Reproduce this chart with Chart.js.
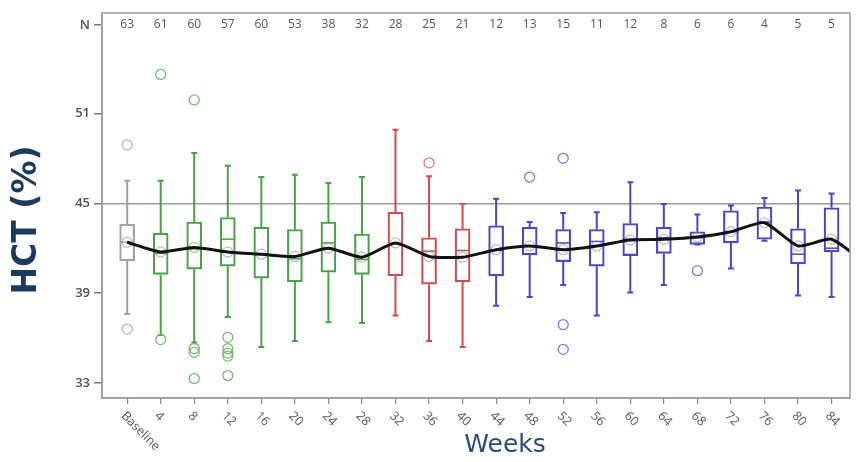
<!DOCTYPE html>
<html>
<head>
<meta charset="utf-8">
<title>HCT (%) by week</title>
<script src="https://cdn.jsdelivr.net/npm/chart.js"></script>
<style>
  html, body { margin: 0; padding: 0; background: #fff; }
  #wrap { width: 858px; height: 462px; }
</style>
</head>
<body>
<div id="wrap"><canvas id="hctChart"></canvas></div>
<script>
// categories
const weekLabels = ['Baseline', '4', '8', '12', '16', '20', '24', '28', '32', '36', '40',
                    '44', '48', '52', '56', '60', '64', '68', '72', '76', '80', '84'];
const nCounts = [63, 61, 60, 57, 60, 53, 38, 32, 28, 25, 21, 12, 13, 15, 11, 12, 8, 6, 6, 4, 5, 5];

// box plot values (HCT %)
const whiskerHigh = [46.5, 46.5, 48.35, 47.5, 46.75, 46.9, 46.35, 46.75, 49.9, 46.8, 44.95,
                     45.3, 43.75, 44.35, 44.4, 46.4, 44.95, 44.25, 44.85, 45.35, 45.85, 45.65];
const q3 = [43.6, 43.0, 43.75, 44.05, 43.4, 43.25, 43.75, 42.95, 44.4, 42.7, 43.3,
            43.5, 43.4, 43.25, 43.25, 43.65, 43.4, 43.1, 44.5, 44.75, 43.3, 44.7];
const median = [42.4, 41.65, 41.95, 42.6, 41.6, 41.3, 42.35, 41.25, 42.3, 41.8, 41.85,
                41.85, 42.15, 42.35, 42.45, 42.6, 42.7, 42.7, 43.1, 43.75, 41.6, 42.0];
const q1 = [41.15, 40.25, 40.6, 40.8, 40.0, 39.75, 40.4, 40.25, 40.15, 39.6, 39.75,
            40.15, 41.55, 41.1, 40.8, 41.5, 41.65, 42.25, 42.35, 42.6, 40.95, 41.75];
const whiskerLow = [37.6, 36.2, 35.7, 37.4, 35.4, 35.8, 37.05, 37.0, 37.5, 35.8, 35.4,
                    38.15, 38.75, 39.55, 37.5, 39.05, 39.55, 42.25, 40.65, 42.5, 38.85, 38.75];
const meanHct = [42.4, 41.75, 42.05, 41.75, 41.6, 41.45, 42.0, 41.4, 42.35, 41.45, 41.4,
                 41.9, 42.15, 41.9, 42.15, 42.55, 42.6, 42.75, 43.1, 43.7, 42.15, 42.6];
const meanBeyond84 = 41.0; // line leaves the frame on the right

// outliers: week index + value
const outlierWeek  = [0, 0, 1, 1, 2, 2, 2, 2, 3, 3, 3, 3, 3, 9, 12, 13, 13, 13, 17];
const outlierValue = [48.9, 36.6, 53.6, 35.9, 51.9, 35.3, 35.05, 33.3, 36.05, 35.3, 35.0, 34.8, 33.5,
                      47.7, 46.75, 48.0, 36.9, 35.25, 40.5];

// y axis
const yTickValues = [33, 39, 45, 51];
const refLine = 45;
const nRowValue = 56.9;

function phaseColor(i, light) {
  if (i === 0) return light ? '#b4b4b4' : '#a2a2a2';
  if (i <= 7) return light ? '#72bb72' : '#4ca04c';
  if (i <= 10) return light ? '#dc7474' : '#cd4c4c';
  return light ? '#7c7cd6' : '#4848c2';
}

const boxPlot = {
  id: 'boxPlot',
  beforeDatasetsDraw(chart) {
    const {ctx, scales: {x, y}} = chart;
    ctx.save();
    weekLabels.forEach((_, i) => {
      const px = x.getPixelForValue(i);
      const hi = y.getPixelForValue(whiskerHigh[i]);
      const lo = y.getPixelForValue(whiskerLow[i]);
      ctx.strokeStyle = phaseColor(i);
      ctx.lineWidth = 2;
      ctx.beginPath();
      ctx.moveTo(px, hi); ctx.lineTo(px, y.getPixelForValue(q3[i]));
      ctx.moveTo(px, y.getPixelForValue(q1[i])); ctx.lineTo(px, lo);
      ctx.moveTo(px - 3, hi); ctx.lineTo(px + 3, hi);
      ctx.moveTo(px - 3, lo); ctx.lineTo(px + 3, lo);
      ctx.stroke();
      ctx.lineWidth = 1.5;
      const md = y.getPixelForValue(median[i]);
      ctx.beginPath();
      ctx.moveTo(px - 7.5, md); ctx.lineTo(px + 7.5, md);
      ctx.stroke();
    });
    ctx.restore();
  },
  afterDraw(chart) {
    const {ctx, chartArea: a, scales: {x, y}} = chart;
    ctx.save();
    // frame
    ctx.strokeStyle = '#9c9c9c';
    ctx.lineWidth = 1.5;
    ctx.strokeRect(a.left, a.top, a.right - a.left, a.bottom - a.top);

    // N row
    ctx.fillStyle = '#555';
    ctx.font = '12px "Open Sans"';
    ctx.textAlign = 'center';
    ctx.textBaseline = 'middle';
    const ny = y.getPixelForValue(nRowValue);
    nCounts.forEach((n, i) => ctx.fillText(String(n), x.getPixelForValue(i), ny));

    // rotated week labels
    ctx.font = '12.5px "Open Sans"';
    ctx.textAlign = 'left';
    weekLabels.forEach((lab, i) => {
      ctx.save();
      ctx.translate(x.getPixelForValue(i) - 4, a.bottom + 16);
      ctx.rotate(Math.PI / 4);
      ctx.fillText(lab, 0, 0);
      ctx.restore();
    });

    // axis titles
    ctx.fillStyle = '#2d4b78';
    ctx.font = '25px "DejaVu Sans"';
    ctx.textAlign = 'center';
    ctx.fillText('Weeks', 505, 445);

    ctx.save();
    ctx.translate(27, 220);
    ctx.rotate(-Math.PI / 2);
    ctx.fillStyle = '#1d3a5c';
    ctx.font = 'bold 33px "DejaVu Sans"';
    ctx.fillText('HCT (%)', 0, 0);
    ctx.restore();

    ctx.restore();
  }
};

const boxData = weekLabels.map((_, i) => ({x: i, y: [q1[i], q3[i]]}));
const meanData = meanHct.map((v, i) => ({x: i, y: v}));
const meanLineData = meanData.concat([{x: weekLabels.length, y: meanBeyond84}]);
const outlierData = outlierWeek.map((w, k) => ({x: w, y: outlierValue[k]}));

new Chart(document.getElementById('hctChart'), {
  type: 'bar',
  data: {
    datasets: [
      {
        type: 'line',
        label: 'Mean',
        data: meanLineData,
        borderColor: '#111',
        borderWidth: 3,
        pointRadius: 0,
        tension: 0.2,
        order: 1
      },
      {
        type: 'scatter',
        label: 'Mean marker',
        data: meanData,
        pointRadius: 5,
        borderWidth: 1.2,
        borderColor: 'rgba(140,140,140,0.6)',
        backgroundColor: 'rgba(0,0,0,0)',
        order: 2
      },
      {
        type: 'scatter',
        label: 'Outliers',
        data: outlierData,
        pointRadius: 5,
        borderWidth: 1.3,
        borderColor: outlierWeek.map(w => phaseColor(w, true)),
        backgroundColor: 'rgba(0,0,0,0)',
        order: 2
      },
      {
        type: 'bar',
        label: 'IQR',
        data: boxData,
        backgroundColor: 'rgba(0,0,0,0)',
        borderColor: weekLabels.map((_, i) => phaseColor(i)),
        borderWidth: 1.5,
        borderSkipped: false,
        barThickness: 15,
        order: 3
      }
    ]
  },
  options: {
    responsive: true,
    maintainAspectRatio: false,
    animation: false,
    layout: { padding: { top: 13, right: 8, left: 0, bottom: 0 } },
    plugins: { legend: { display: false }, tooltip: { enabled: false } },
    scales: {
      x: {
        type: 'linear',
        offset: false,
        min: -0.75,
        max: 21.55,
        afterBuildTicks: s => { s.ticks = weekLabels.map((_, i) => ({value: i})); },
        afterFit: s => { s.height = 64; },
        ticks: { display: false },
        grid: { offset: false, drawOnChartArea: false, tickLength: 6, color: '#8a8a8a', lineWidth: 1.2 },
        border: { color: '#9c9c9c', width: 1.5 }
      },
      y: {
        min: 32,
        max: 57.7,
        afterBuildTicks: s => { s.ticks = yTickValues.concat([nRowValue]).map(v => ({value: v})); },
        afterFit: s => { s.width = 102; },
        ticks: {
          callback: v => (v === nRowValue ? 'N' : v),
          color: '#505050',
          font: { family: 'Open Sans', size: 13, weight: '600' },
          padding: 4
        },
        grid: {
          color: c => (c.tick && c.tick.value === refLine ? '#9a9a9a' : 'rgba(0,0,0,0)'),
          tickColor: '#777',
          tickLength: 8,
          lineWidth: 1.5
        },
        border: { color: '#9c9c9c', width: 1.5 }
      }
    }
  },
  plugins: [boxPlot]
});
</script>
</body>
</html>
